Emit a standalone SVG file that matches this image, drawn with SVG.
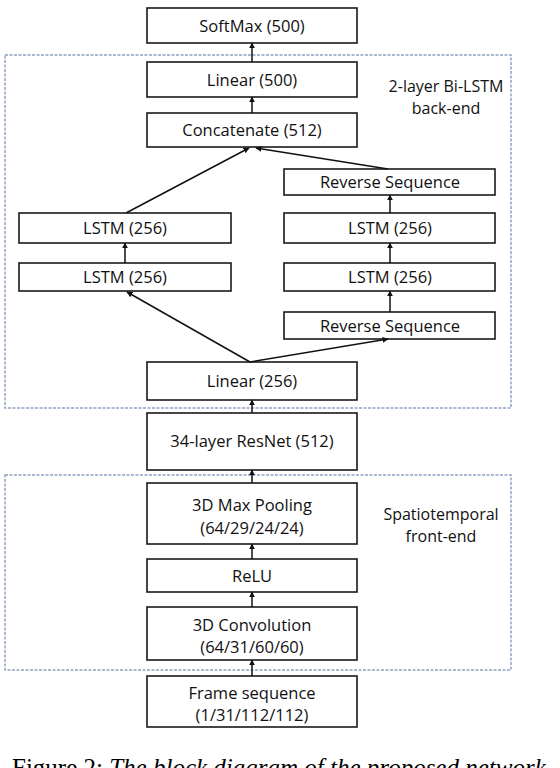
<svg xmlns="http://www.w3.org/2000/svg" width="560" height="768" viewBox="0 0 560 768">
<style>
.box{fill:#fff;stroke:#1a1a1a;stroke-width:1.6}
.t{font-family:"Open Sans","Liberation Sans",sans-serif;font-size:16.5px;fill:#111;text-anchor:middle}
.lbl{font-family:"Open Sans","Liberation Sans",sans-serif;font-size:16px;fill:#111;text-anchor:middle}
.grp{fill:none;stroke:#8ea2c0;stroke-width:1.5;stroke-dasharray:3 1.5}
.c{fill:none;stroke:#111;stroke-width:1.5;marker-end:url(#ah)}
.cap{font-family:"Liberation Serif",serif;font-size:25px;fill:#000}
</style>
<defs>
<marker id="ah" viewBox="0 0 10 10" refX="9" refY="5" markerWidth="6" markerHeight="6" orient="auto" markerUnits="userSpaceOnUse">
<path d="M0,0 L10,5 L0,10 z" fill="#111"/>
</marker>
</defs>
<g id="groups">
<rect class="grp" x="5" y="55" width="506" height="353"/>
<text class="lbl" x="446" y="92">2-layer Bi-LSTM</text>
<text class="lbl" x="446" y="114">back-end</text>
<rect class="grp" x="5" y="475" width="506" height="195"/>
<text class="lbl" x="441" y="520">Spatiotemporal</text>
<text class="lbl" x="441" y="542">front-end</text>
</g>
<g id="softmax"><rect class="box" x="147" y="8" width="210" height="35"/><text class="t" x="252" y="31.5">SoftMax (500)</text></g>
<g id="linear500"><rect class="box" x="147" y="62" width="210" height="35"/><text class="t" x="252" y="85.5">Linear (500)</text></g>
<g id="concat"><rect class="box" x="147" y="113" width="210" height="34"/><text class="t" x="252" y="136">Concatenate (512)</text></g>
<g id="rev1"><rect class="box" x="284" y="169" width="211" height="26"/><text class="t" x="390" y="188">Reverse Sequence</text></g>
<g id="lstmL1"><rect class="box" x="19" y="213" width="212" height="30"/><text class="t" x="125" y="234">LSTM (256)</text></g>
<g id="lstmR1"><rect class="box" x="284" y="213" width="211" height="30"/><text class="t" x="390" y="234">LSTM (256)</text></g>
<g id="lstmL2"><rect class="box" x="19" y="263" width="212" height="28"/><text class="t" x="125" y="283">LSTM (256)</text></g>
<g id="lstmR2"><rect class="box" x="284" y="263" width="211" height="28"/><text class="t" x="390" y="283">LSTM (256)</text></g>
<g id="rev2"><rect class="box" x="284" y="312" width="211" height="27"/><text class="t" x="390" y="332">Reverse Sequence</text></g>
<g id="linear256"><rect class="box" x="147" y="362" width="210" height="38"/><text class="t" x="252" y="387">Linear (256)</text></g>
<g id="resnet"><rect class="box" x="147" y="413" width="210" height="57"/><text class="t" x="252" y="447">34-layer ResNet (512)</text></g>
<g id="maxpool"><rect class="box" x="147" y="483" width="210" height="61"/><text class="t" x="252" y="511">3D Max Pooling</text><text class="t" x="252" y="534">(64/29/24/24)</text></g>
<g id="relu"><rect class="box" x="147" y="559" width="210" height="33"/><text class="t" x="252" y="582">ReLU</text></g>
<g id="conv"><rect class="box" x="147" y="607" width="210" height="53"/><text class="t" x="252" y="631">3D Convolution</text><text class="t" x="252" y="653">(64/31/60/60)</text></g>
<g id="frames"><rect class="box" x="147" y="676" width="210" height="51"/><text class="t" x="252" y="699">Frame sequence</text><text class="t" x="252" y="721">(1/31/112/112)</text></g>
<g id="connectors">
<line class="c" x1="252" y1="62" x2="252" y2="43"/>
<line class="c" x1="252" y1="113" x2="252" y2="97"/>
<line class="c" x1="126" y1="213" x2="249" y2="148"/>
<line class="c" x1="388" y1="169" x2="256" y2="148"/>
<line class="c" x1="390" y1="213" x2="390" y2="195"/>
<line class="c" x1="390" y1="263" x2="390" y2="243"/>
<line class="c" x1="390" y1="312" x2="390" y2="291"/>
<line class="c" x1="125" y1="263" x2="125" y2="243"/>
<line class="c" x1="250" y1="362" x2="127" y2="292"/>
<line class="c" x1="250" y1="362" x2="388" y2="339"/>
<line class="c" x1="252" y1="413" x2="252" y2="400"/>
<line class="c" x1="252" y1="483" x2="252" y2="470"/>
<line class="c" x1="252" y1="559" x2="252" y2="544"/>
<line class="c" x1="252" y1="607" x2="252" y2="592"/>
<line class="c" x1="252" y1="676" x2="252" y2="660"/>
</g>
<text class="cap" x="12" y="776">Figure 2: <tspan font-style="italic">The block diagram of the proposed network</tspan></text>
</svg>
